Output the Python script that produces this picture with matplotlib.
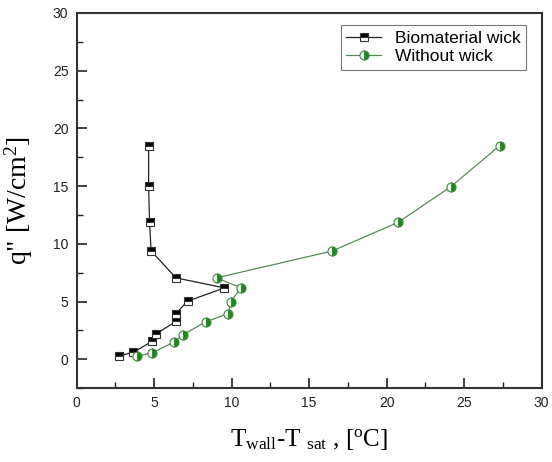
import matplotlib
matplotlib.use('Agg')
import matplotlib.pyplot as plt
from matplotlib.ticker import MultipleLocator

plt.rcParams['mathtext.fontset'] = 'custom'
plt.rcParams['mathtext.rm'] = 'Liberation Serif'
plt.rcParams['mathtext.it'] = 'Liberation Serif:italic'

# Biomaterial wick
bio_dt = [2.75, 3.65, 4.88, 5.1, 6.4, 6.4, 7.16, 9.53, 6.4, 4.8, 4.7, 4.64, 4.64]
bio_q = [0.3, 0.6, 1.56, 2.17, 3.27, 3.96, 5.03, 6.18, 7.05, 9.39, 11.88, 15.0, 18.5]

# Without wick
plain_dt = [3.87, 4.86, 6.3, 6.88, 8.34, 9.78, 9.93, 10.6, 9.03, 16.47, 20.75, 24.15, 27.3]
plain_q = [0.25, 0.55, 1.5, 2.14, 3.24, 3.96, 4.97, 6.18, 7.05, 9.37, 11.86, 14.95, 18.5]

fig = plt.figure(figsize=(5.52, 4.62), dpi=100)
ax = fig.add_axes([0.139, 0.160, 0.842, 0.812])

ax.plot(bio_dt, bio_q, color='#222222', linewidth=0.9, marker='s', markersize=5.6,
        fillstyle='top', markerfacecolor='black', markerfacecoloralt='white',
        markeredgecolor='#333333', markeredgewidth=0.8, label='Biomaterial wick')
ax.plot(plain_dt, plain_q, color='#5a8a5a', linewidth=0.9, marker='o', markersize=6.5,
        fillstyle='right', markerfacecolor='#1a8a1a', markerfacecoloralt='white',
        markeredgecolor='#3a8a3a', markeredgewidth=0.8, label='Without wick')

ax.set_xlim(0, 30)
ax.set_ylim(-2.5, 30)
ax.xaxis.set_major_locator(MultipleLocator(5))
ax.xaxis.set_minor_locator(MultipleLocator(2.5))
ax.yaxis.set_major_locator(MultipleLocator(5))
ax.yaxis.set_minor_locator(MultipleLocator(2.5))
ax.tick_params(which='major', direction='in', length=7, width=1.2, labelsize=10,
               colors='#222222', pad=6)
ax.tick_params(which='minor', direction='in', length=4, width=1.0, colors='#222222')
for lab in ax.get_xticklabels() + ax.get_yticklabels():
    lab.set_family('Liberation Sans')
for s in ax.spines.values():
    s.set_linewidth(1.5)
    s.set_color('#333333')

ax.set_xlabel(r'T$_{\mathrm{wall}}$-T $_{\mathrm{sat}}$ , [$^{\mathrm{o}}$C]',
              family='Liberation Serif', fontsize=18, labelpad=12)
ax.set_ylabel(r'q" [W/cm$^{2}$]', family='Liberation Serif', fontsize=20, labelpad=13)

leg = ax.legend(loc='upper right', prop={'family': 'Liberation Sans', 'size': 12.5},
                fancybox=False, edgecolor='#555555', borderpad=0.3, handlelength=2.0,
                labelspacing=0.2, bbox_to_anchor=(0.985, 0.99))
leg.get_frame().set_linewidth(0.8)

fig.savefig('out.png', dpi=100)
